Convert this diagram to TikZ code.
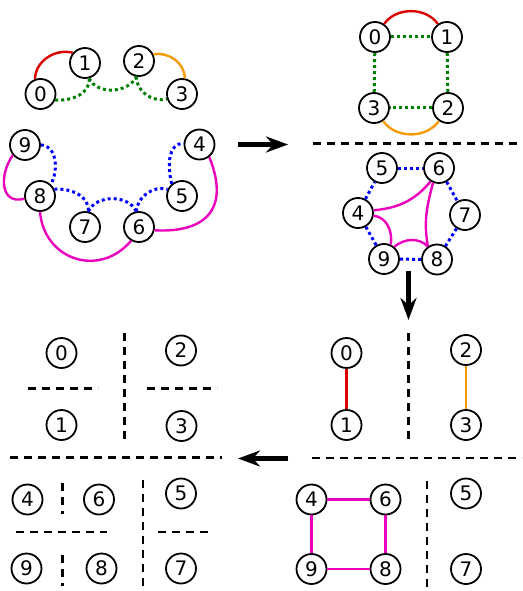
\documentclass[tikz,border=0pt]{standalone}
\usepackage{fontspec}
\setmainfont{DejaVu Sans}
\usetikzlibrary{arrows.meta}
\definecolor{cred}{RGB}{220,0,0}
\definecolor{corange}{RGB}{245,155,0}
\definecolor{cgreen}{RGB}{0,128,0}
\definecolor{cblue}{RGB}{0,0,255}
\definecolor{cmag}{RGB}{235,0,190}
\begin{document}
\begin{tikzpicture}[x=1pt,y=-1pt,
  v/.style={circle,draw,line width=1.8pt,minimum size=30pt,inner sep=0pt,font=\fontsize{20}{24}\selectfont},
  solidedge/.style={line width=2.4pt},
  dotedge/.style={line width=3pt,dash pattern=on 3pt off 3pt},
  sep/.style={line width=2.2pt,dash pattern=on 8pt off 6pt},
  bigarrow/.style={line width=5pt,-{Stealth[length=22pt,width=16pt]}}]
\useasboundingbox (0,0) rectangle (522,591);

% ---------- top left ----------
\node[v] (a0) at (40.5,94) {0};
\node[v] (a1) at (85,63) {1};
\node[v] (a2) at (139,61) {2};
\node[v] (a3) at (182,94) {3};
\node[v] (a9) at (25,145) {9};
\node[v] (a4) at (199.5,144.5) {4};
\node[v] (a8) at (40,196) {8};
\node[v] (a5) at (182,196) {5};
\node[v] (a7) at (85,227) {7};
\node[v] (a6) at (139,227) {6};

\draw[solidedge,cred] (a0.110) to[out=90,in=165] (a1.140);
\draw[solidedge,corange] (a2.25) to[out=10,in=90] (a3.80);
\draw[dotedge,cgreen] (a0.-22) to[out=-5,in=-85] (a1.-75);
\draw[dotedge,cgreen] (a1.-75) to[out=-65,in=-115] (a2.-100);
\draw[dotedge,cgreen] (a2.-100) to[out=-90,in=195] (a3.198);

\draw[solidedge,cmag] (a9.220) to[out=235,in=195,looseness=1.4] (a8.190);
\draw[solidedge,cmag] (a4.-52) to[out=-68,in=-3,looseness=1.5] (a6.-12);
\draw[solidedge,cmag] (a8.-90) to[out=-85,in=-130,looseness=1.3] (a6.-120);
\draw[dotedge,cblue] (a9.0) to[out=0,in=60] (a8.47);
\draw[dotedge,cblue] (a8.25) to[out=5,in=85] (a7.78);
\draw[dotedge,cblue] (a7.78) to[out=65,in=115] (a6.100);
\draw[dotedge,cblue] (a6.100) to[out=85,in=165] (a5.155);
\draw[dotedge,cblue] (a5.130) to[out=105,in=180] (a4.176);

% arrow right
\coordinate (r1s) at (238,144.5);
\coordinate (r1e) at (288,144.5);
\draw[bigarrow] (r1s) -- (r1e);

% ---------- top right ----------
\node[v] (b0) at (375,37) {0};
\node[v] (b1) at (447,37) {1};
\node[v] (b3) at (374,108) {3};
\node[v] (b2) at (448,108) {2};
\draw[solidedge,cred] (b0) to[out=55,in=125] (b1);
\draw[solidedge,corange] (b3) to[out=-55,in=-125] (b2);
\draw[dotedge,cgreen] (b0) -- (b1);
\draw[dotedge,cgreen] (b1) -- (b2);
\draw[dotedge,cgreen] (b2) -- (b3);
\draw[dotedge,cgreen] (b3) -- (b0);

\draw[sep] (313,143.5) -- (522,143.5);

\node[v] (b5) at (382,168) {5};
\node[v] (b6) at (439,168) {6};
\node[v] (b4) at (358,213) {4};
\node[v] (b7) at (465,215) {7};
\node[v] (b9) at (384,259) {9};
\node[v] (b8) at (437,259.5) {8};
\draw[dotedge,cblue] (b5) -- (b6);
\draw[dotedge,cblue] (b6) -- (b7);
\draw[dotedge,cblue] (b7) -- (b8);
\draw[dotedge,cblue] (b8) -- (b9);
\draw[dotedge,cblue] (b9) -- (b4);
\draw[dotedge,cblue] (b4) -- (b5);
\draw[solidedge,cmag] (b4.10) to[out=5,in=-130] (b6.-122);
\draw[solidedge,cmag] (b4.-10) to[out=-5,in=80] (b9.65);
\draw[solidedge,cmag] (b6.-112) to[out=-105,in=100] (b8.125);
\draw[solidedge,cmag] (b9.50) to[out=40,in=135] (b8.125);

% arrow down
\coordinate (r2s) at (408.5,271);
\coordinate (r2e) at (408.5,320);
\draw[bigarrow] (r2s) -- (r2e);

% ---------- bottom right ----------
\node[v] (d0) at (346.5,353) {0};
\node[v] (d1) at (346.5,425) {1};
\node[v] (d2) at (466,350) {2};
\node[v] (d3) at (466,425) {3};
\draw[solidedge,cred] (d0) -- (d1);
\draw[solidedge,corange] (d2) -- (d3);
\draw[sep] (408.5,333) -- (408.5,443);
\draw[sep] (312,458) -- (522,458);

\node[v] (d4) at (311.5,499.5) {4};
\node[v] (d6) at (385.5,499.5) {6};
\node[v] (d9) at (311.5,569) {9};
\node[v] (d8) at (385.5,569) {8};
\node[v] (d5) at (466,493.5) {5};
\node[v] (d7) at (466,569) {7};
\draw[solidedge,cmag] (d4) -- (d6);
\draw[solidedge,cmag] (d6) -- (d8);
\draw[solidedge,cmag] (d8) -- (d9);
\draw[solidedge,cmag] (d9) -- (d4);
\draw[sep] (427,481) -- (427,591);

% arrow left
\coordinate (r3s) at (288,458.5);
\coordinate (r3e) at (238,458.5);
\draw[bigarrow] (r3s) -- (r3e);

% ---------- bottom left ----------
\node[v] (c0) at (61.5,353) {0};
\node[v] (c2) at (181,350.5) {2};
\node[v] (c1) at (61.5,425) {1};
\node[v] (c3) at (181.5,426) {3};
\draw[sep] (124.5,333) -- (124.5,443);
\draw[sep] (28,388.5) -- (98,388.5);
\draw[sep] (147,388.5) -- (217,388.5);
\draw[sep] (10,457.5) -- (222,457.5);

\node[v] (c4) at (27.5,499.5) {4};
\node[v] (c6) at (99,499.5) {6};
\node[v] (c5) at (181,493.5) {5};
\node[v] (c9) at (26.5,568.5) {9};
\node[v] (c8) at (101.5,568.5) {8};
\node[v] (c7) at (181,568.5) {7};
\draw[sep] (62.5,483) -- (62.5,514);
\draw[sep] (62.5,555) -- (62.5,586);
\draw[sep] (143,480) -- (143,591);
\draw[sep] (16,532) -- (107,532);
\draw[sep] (158,532) -- (208,532);
\end{tikzpicture}
\end{document}
